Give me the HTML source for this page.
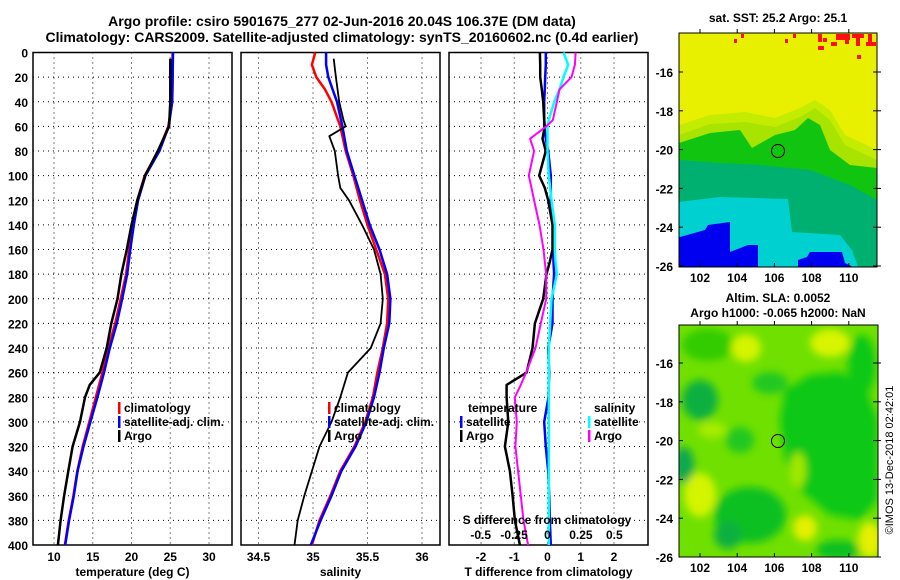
<!DOCTYPE html>
<html><head><meta charset="utf-8"><style>
html,body{margin:0;padding:0;background:#fff;}
svg{display:block;font-family:"Liberation Sans",Arial,sans-serif;font-weight:bold;}
</style></head><body>
<svg id="fig" width="900" height="580" viewBox="0 0 900 580" xmlns="http://www.w3.org/2000/svg">
<defs>
<clipPath id="cTop"><rect x="679" y="33" width="198" height="234"/></clipPath>
<clipPath id="cBot"><rect x="679" y="325" width="199" height="232"/></clipPath>
<filter id="blur" x="-20%" y="-20%" width="140%" height="140%"><feGaussianBlur stdDeviation="4"/></filter>
</defs>
<text x="342" y="26" text-anchor="middle" font-size="14">Argo profile: csiro 5901675_277 02-Jun-2016 20.04S 106.37E (DM data)</text>
<text x="342" y="42" text-anchor="middle" font-size="14">Climatology: CARS2009. Satellite-adjusted climatology: synTS_20160602.nc (0.4d earlier)</text>

<!-- top map -->
<g clip-path="url(#cTop)">
<rect x="679" y="33" width="198" height="234" fill="#e8f000"/>
<polygon fill="#c4ec00" points="679,125 710,115 745,112 775,118 800,108 815,100 830,110 845,135 877,150 877,267 679,267"/>
<polygon fill="#a8e400" points="679,135 710,124 745,122 775,127 800,117 815,108 830,120 845,145 877,160 877,267 679,267"/>
<polygon fill="#10c410" points="679,143 710,133 740,130 752,148 775,135 795,130 808,118 820,125 830,150 850,165 877,168 877,267 679,267"/>
<polygon fill="#00b070" points="679,160 720,163 760,165 810,170 850,185 877,200 877,267 679,267"/>
<polygon fill="#00d0d0" points="679,202 720,197 788,199 792,232 840,235 852,250 858,267 679,267"/>
<polygon fill="#0000f0" points="680,237 705,230 708,225 730,222 730,252 748,245 758,245 758,267 679,267 679,237"/>
<polygon fill="#0000f0" points="798,260 807,257 810,252 842,252 845,263 853,267 798,267"/>
<g fill="#ff1010">
<rect x="734" y="39" width="3" height="4"/><rect x="741" y="34" width="3" height="4"/><rect x="785" y="39" width="3" height="4"/><rect x="793" y="34" width="3" height="4"/><rect x="818" y="34" width="4" height="8"/><rect x="823" y="38" width="4" height="4"/><rect x="818" y="46" width="6" height="4"/><rect x="831" y="42" width="6" height="4"/><rect x="836" y="34" width="14" height="6"/><rect x="845" y="40" width="4" height="4"/><rect x="852" y="34" width="12" height="4"/><rect x="856" y="38" width="4" height="8"/><rect x="866" y="42" width="10" height="4"/><rect x="868" y="34" width="4" height="8"/><rect x="857" y="55" width="4" height="4"/>
</g>
</g>
<rect x="679" y="33" width="198" height="234" fill="none" stroke="#000" stroke-width="1"/>
<circle cx="778" cy="151" r="6.5" fill="none" stroke="#000" stroke-width="1"/>
<text x="778" y="22" text-anchor="middle" font-size="12">sat. SST: 25.2 Argo: 25.1</text>

<!-- bottom map -->
<g clip-path="url(#cBot)">
<rect x="679" y="325" width="199" height="232" fill="#70e000"/>
<g filter="url(#blur)">
<polygon fill="#10c818" points="785,390 810,375 840,372 865,385 878,420 878,500 860,520 830,515 800,490 785,460 780,420"/>
<ellipse cx="862" cy="365" rx="14" ry="30" fill="#10c818"/>
<ellipse cx="700" cy="400" rx="18" ry="20" fill="#10b040"/>
<ellipse cx="708" cy="345" rx="26" ry="16" fill="#30cc00"/>
<ellipse cx="750" cy="515" rx="36" ry="28" fill="#10c020"/>
<ellipse cx="728" cy="535" rx="14" ry="14" fill="#10b040"/>
<ellipse cx="740" cy="440" rx="14" ry="13" fill="#20c820"/>
<ellipse cx="770" cy="383" rx="18" ry="11" fill="#20c820"/>
<ellipse cx="684" cy="465" rx="10" ry="18" fill="#10a850"/>
<ellipse cx="838" cy="550" rx="22" ry="10" fill="#10c020"/>
<ellipse cx="746" cy="348" rx="15" ry="14" fill="#d4f400"/>
<ellipse cx="830" cy="343" rx="20" ry="14" fill="#d8f400"/>
<ellipse cx="700" cy="495" rx="16" ry="22" fill="#d4f400"/>
<ellipse cx="805" cy="528" rx="12" ry="13" fill="#e4f000"/>
<ellipse cx="870" cy="540" rx="12" ry="18" fill="#e4f000"/>
<ellipse cx="798" cy="470" rx="8" ry="18" fill="#a0e800"/>
<ellipse cx="712" cy="430" rx="14" ry="8" fill="#a8ec00"/>
</g>
</g>
<rect x="679" y="325" width="199" height="232" fill="none" stroke="#000" stroke-width="1"/>
<circle cx="778" cy="441" r="6.5" fill="none" stroke="#000" stroke-width="1"/>
<text x="778" y="302" text-anchor="middle" font-size="12">Altim. SLA: 0.0052</text>
<text x="778" y="317" text-anchor="middle" font-size="12">Argo h1000: -0.065 h2000: NaN</text>
<text transform="translate(893,460) rotate(-90)" text-anchor="middle" font-size="11" font-weight="normal">©IMOS 13-Dec-2018 02:42:01</text>
<g id="mapaxes"></g>
<g id="panels"></g>
</svg>
<script>
// depth levels (dbar)
const depthsT = [0,20,40,60,80,100,120,140,160,180,200,220,240,260,280,300,320,340,360,380,400];
const tempClim = [25.3,25.3,25.25,24.75,23.5,21.7,20.75,20.15,19.7,19.3,18.6,17.9,17.0,16.25,15.4,14.55,13.7,13.0,12.5,11.9,11.4];
const tempSat  = [25.35,25.3,25.25,24.8,23.6,21.8,20.85,20.3,19.85,19.45,18.8,18.1,17.2,16.45,15.6,14.7,13.8,13.05,12.55,11.95,11.45];
const depthsArgoT = [5,20,40,60,80,100,120,140,160,180,200,220,240,260,270,280,300,320,340,360,380,400];
const tempArgo = [25.0,25.0,25.0,24.85,23.4,21.75,20.75,20.0,19.4,18.7,18.2,17.4,16.8,15.9,14.6,14.0,13.35,12.4,11.85,11.3,10.85,10.5];

const depthsS = [0,10,20,30,40,60,80,100,120,140,160,180,200,220,240,260,280,300,320,340,360,380,400];
const salClim = [35.02,34.99,35.03,35.11,35.17,35.25,35.30,35.37,35.43,35.50,35.58,35.66,35.69,35.68,35.64,35.59,35.55,35.48,35.38,35.25,35.16,35.06,34.99];
const salSat  = [35.12,35.12,35.14,35.18,35.22,35.27,35.31,35.38,35.45,35.52,35.61,35.68,35.71,35.70,35.65,35.61,35.56,35.49,35.39,35.26,35.17,35.07,34.98];
const depthsArgoS = [5,20,40,55,60,68,80,100,110,120,140,160,180,200,220,240,260,280,300,320,340,360,380,400];
const salArgo = [35.19,35.21,35.24,35.28,35.30,35.15,35.20,35.23,35.25,35.33,35.45,35.56,35.62,35.64,35.62,35.53,35.32,35.25,35.17,35.06,34.99,34.92,34.86,34.83];

const depthsD = [0,10,20,30,40,55,60,70,80,100,110,120,140,160,170,180,200,220,240,260,270,280,300,320,340,360,380,400];
const dTsat  = [-0.05,-0.05,-0.07,-0.08,-0.1,-0.1,-0.1,-0.05,0.02,0.1,0.1,0.1,0.17,0.17,0.18,0.2,0.15,0.15,0.02,0.05,0.04,0.03,-0.1,-0.05,0.02,0.05,0.07,0.1];
const dTargo = [-0.23,-0.22,-0.22,-0.17,-0.13,-0.1,-0.08,-0.15,-0.05,-0.25,-0.08,0.02,0.15,0.15,0.07,-0.03,-0.13,-0.38,-0.45,-0.63,-1.23,-1.23,-1.18,-1.28,-1.13,-1.05,-0.98,-0.83];
const dSsat  = [0.12,0.155,0.12,0.09,0.05,0.01,0.0,0.0,0.0,0.01,0.02,0.03,0.055,0.055,0.06,0.07,0.03,0.02,0.01,0.01,0.01,0.01,0.01,0.01,0.01,0.01,0.01,0.01];
const dSargo = [0.21,0.205,0.18,0.09,0.07,0.04,-0.01,-0.13,-0.10,-0.14,-0.12,-0.10,-0.06,-0.03,-0.02,-0.01,-0.01,-0.05,-0.09,-0.16,-0.2,-0.245,-0.23,-0.24,-0.22,-0.20,-0.18,-0.145];

const depthTicks = [0,20,40,60,80,100,120,140,160,180,200,220,240,260,280,300,320,340,360,380,400];
const tempTicks = [10,15,20,25,30];
const salTicks = [34.5,35,35.5,36];
const dTTicks = [-2,-1,0,1,2];
const dSTicks = [-0.5,-0.25,0,0.25,0.5];
const dSTickLabels = ['-0.5','-0.25','0','0.25','0.5'];
const latTicks = [-16,-18,-20,-22,-24,-26];
const lonTicks = [102,104,106,108,110];

const NS='http://www.w3.org/2000/svg';
const G=document.getElementById('panels');
function mk(tag,attrs,parent){const e=document.createElementNS(NS,tag);for(const k in attrs)e.setAttribute(k,attrs[k]);(parent||G).appendChild(e);return e;}
const Y0=52.5,Y1=545;
function yD(d){return Y0+d*(Y1-Y0)/400;}
function xScale(x0,v0,x1,v1){return v=>x0+(v-v0)*(x1-x0)/(v1-v0);}

const panels=[
 {L:33,R:232,x:xScale(54,10,209,30),ticks:tempTicks,labels:tempTicks.map(String),title:'temperature (deg C)',name:'temperature'},
 {L:241,R:440,x:xScale(258.5,34.5,422,36),ticks:salTicks,labels:salTicks.map(String),title:'salinity',name:'salinity'},
 {L:449,R:648,x:xScale(481,-2,547.5,0),ticks:dTTicks,labels:dTTicks.map(String),title:'T difference from climatology',name:'difference'}
];
panels.forEach(p=>{
  const g=mk('g',{});
  
  
  depthTicks.forEach(d=>{const l=mk('line',{x1:p.L,x2:p.R,y1:yD(d),y2:yD(d),stroke:'#000','stroke-width':1,'stroke-dasharray':'1 4'},g);
    });
  p.ticks.forEach((t,i)=>{const X=p.x(t);
    const l=mk('line',{x1:X,x2:X,y1:Y0,y2:Y1,stroke:'#000','stroke-width':1,'stroke-dasharray':'1 4'},g);
    
    const tx=mk('text',{x:X,y:561,'text-anchor':'middle','font-size':12},g);tx.textContent=p.labels[i];
    });
  const r=mk('rect',{x:p.L,y:Y0,width:p.R-p.L,height:Y1-Y0,fill:'none',stroke:'#000','stroke-width':1.5},g);
  
  const tt=mk('text',{x:(p.L+p.R)/2,y:576,'text-anchor':'middle','font-size':12},g);tt.textContent=p.title;
  
});
depthTicks.forEach(d=>{const t=mk('text',{x:28,y:yD(d)+5,'text-anchor':'end','font-size':12});t.textContent=String(d);
  });

function line(xs,ds,xf,color,w,name){
  const pts=xs.map((v,i)=>xf(v).toFixed(1)+','+yD(ds[i]).toFixed(1)).join(' ');
  const e=mk('polyline',{points:pts,fill:'none',stroke:color,'stroke-width':w,'stroke-linejoin':'round'});
  
  
}
const P=panels;
line(tempClim,depthsT,P[0].x,'#ff0000',2.5,'temp-climatology-line');
line(tempSat,depthsT,P[0].x,'#0000ff',2.5,'temp-satellite-line');
line(tempArgo,depthsArgoT,P[0].x,'#000000',2.5,'temp-argo-line');
line(salClim,depthsS,P[1].x,'#ff0000',2.5,'sal-climatology-line');
line(salSat,depthsS,P[1].x,'#0000ff',2.5,'sal-satellite-line');
line(salArgo,depthsArgoS,P[1].x,'#000000',1.8,'sal-argo-line');
const xS=xScale(547.5,0,580.9,0.25);
line(dTsat,depthsD,P[2].x,'#0000ff',2.5,'dT-satellite-line');
line(dTargo,depthsD,P[2].x,'#000000',2.5,'dT-argo-line');
line(dSsat,depthsD,xS,'#00ffff',2.5,'dS-satellite-line');
line(dSargo,depthsD,xS,'#ff00ff',2,'dS-argo-line');

// S-axis labels inside panel 3
const sT=mk('text',{x:547,y:524,'text-anchor':'middle','font-size':12});sT.textContent='S difference from climatology';

dSTicks.forEach((t,i)=>{const e=mk('text',{x:xS(t),y:539,'text-anchor':'middle','font-size':12});e.textContent=dSTickLabels[i];
  });

// legends
function leg(x,y,color,label){
  const m=mk('rect',{x:x,y:y-10,width:2.5,height:12,fill:color});
  
  const t=mk('text',{x:x+6,y:y,'font-size':12});t.textContent=label;
  
}
leg(118,412,'#ff0000','climatology');leg(118,426,'#0000ff','satellite-adj. clim.');leg(118,440,'#000000','Argo');
leg(328,412,'#ff0000','climatology');leg(328,426,'#0000ff','satellite-adj. clim.');leg(328,440,'#000000','Argo');
const lt=mk('text',{x:468,y:412,'font-size':12});lt.textContent='temperature';
const ls=mk('text',{x:594,y:412,'font-size':12});ls.textContent='salinity';
leg(460,426,'#0000ff','satellite');leg(460,440,'#000000','Argo');
leg(588,426,'#00ffff','satellite');leg(588,440,'#ff00ff','Argo');

// map axes
const MA=document.getElementById('mapaxes');
function lonX(l){return 700+(l-102)*18.6;}
[[33,267,72,19.4],[325,557,363,19.4]].forEach(([top,bot,y16,s])=>{
  latTicks.forEach(la=>{const y=y16+(-16-la)*s;if(y>bot+1)return;
    const t=mk('text',{x:673,y:y+5,'text-anchor':'end','font-size':12},MA);t.textContent=String(la);
    
    mk('line',{x1:679,x2:683,y1:y,y2:y,stroke:'#000'},MA);mk('line',{x1:873,x2:881,y1:y,y2:y,stroke:'#000'},MA);});
  lonTicks.forEach(lo=>{const X=lonX(lo);
    const t=mk('text',{x:X,y:bot+15,'text-anchor':'middle','font-size':12},MA);t.textContent=String(lo);
    
    mk('line',{x1:X,x2:X,y1:top-4,y2:top,stroke:'#000'},MA);mk('line',{x1:X,x2:X,y1:bot,y2:bot-4,stroke:'#000'},MA);});
});
</script>
</body></html>
